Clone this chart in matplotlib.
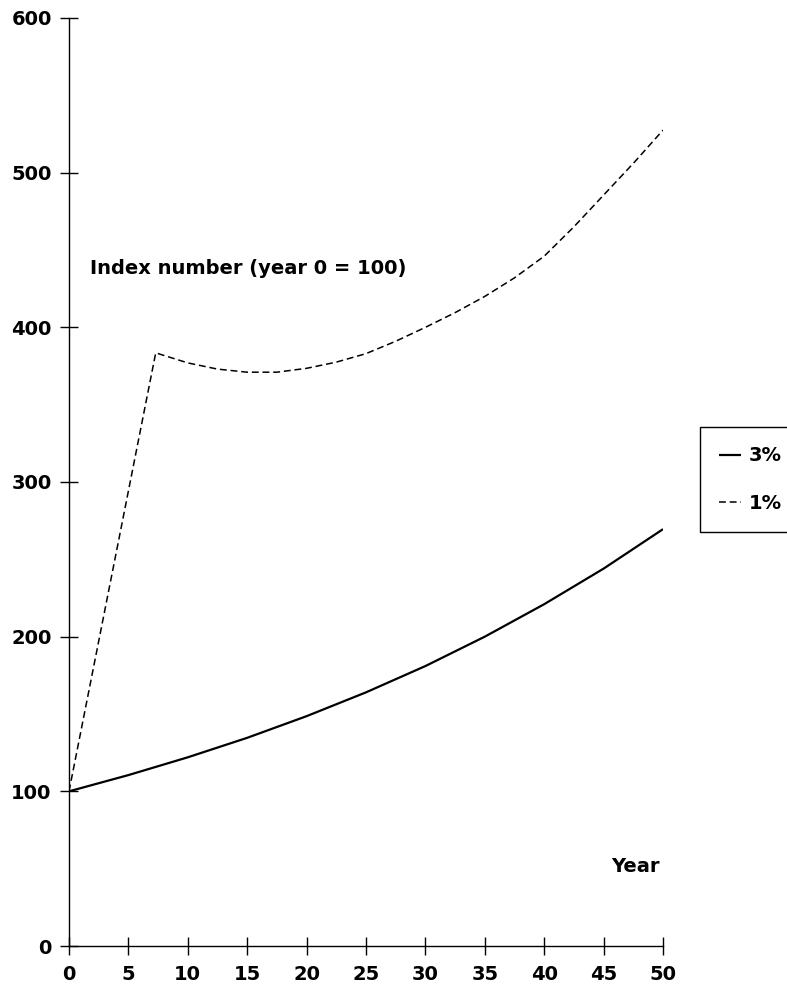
import matplotlib
matplotlib.use("Agg")
import matplotlib.pyplot as plt

# Data
years_3 = [0, 5, 10, 15, 20, 25, 30, 35, 40, 45, 50]
index_3 = [100, 110.5, 122, 134.6, 148.6, 164, 181, 200, 221, 244, 269.5]

years_1 = [0, 7.3, 10, 12.5, 15, 17.5, 20, 22.5, 25, 27.5, 30, 32.5, 35, 37.5, 40, 42.5, 45, 47.5, 50]
index_1 = [100, 383.5, 377, 373, 371, 371, 373.5, 377.5, 383, 391, 400, 409.5, 420, 432, 446, 465, 485.5, 506, 527.5]

series_labels = ["3%", "1%"]
x_ticks = [0, 5, 10, 15, 20, 25, 30, 35, 40, 45, 50]
y_ticks = [0, 100, 200, 300, 400, 500, 600]

plt.rcParams['font.family'] = ['DejaVu Sans']

fig = plt.figure(figsize=(7.87, 10.01), dpi=100)
ax = fig.add_axes([69/787, 1-946/1001, (663-69)/787, (946-18)/1001])

l3, = ax.plot(years_3, index_3, color='black', lw=1.6, solid_capstyle='butt')
l1, = ax.plot(years_1, index_1, color='black', lw=1.1, dashes=(4.5, 2.5))

ax.set_xlim(0, 50)
ax.set_ylim(0, 600)
ax.spines['top'].set_visible(False)
ax.spines['right'].set_visible(False)
for s in ('left', 'bottom'):
    ax.spines[s].set_linewidth(1.0)
ax.set_xticks(x_ticks)
ax.set_yticks(y_ticks)
ax.tick_params(axis='both', direction='inout', length=13, width=1.0, labelsize=14)
ax.tick_params(axis='x', pad=7)
ax.tick_params(axis='y', pad=6)
for lab in ax.get_xticklabels() + ax.get_yticklabels():
    lab.set_fontweight('bold')

ax.text(90/787, 1-268/1001, "Index number (year 0 = 100)", transform=fig.transFigure,
        fontsize=14, fontweight='bold', ha='left', va='center')
ax.text(660/787, 1-866/1001, "Year", transform=fig.transFigure,
        fontsize=14, fontweight='bold', ha='right', va='center')

leg = fig.legend([l3, l1], series_labels, loc='upper left',
                 bbox_to_anchor=(700/787, 1-537/1001, 0.2, 110/1001), mode='expand',
                 frameon=True, fancybox=False, edgecolor='black', framealpha=1,
                 prop={'weight': 'bold', 'size': 14}, handlelength=1.1,
                 handletextpad=0.4, labelspacing=1.45, borderpad=1.0, borderaxespad=0)
leg.get_frame().set_linewidth(1.0)

fig.savefig("out.png", dpi=100)
